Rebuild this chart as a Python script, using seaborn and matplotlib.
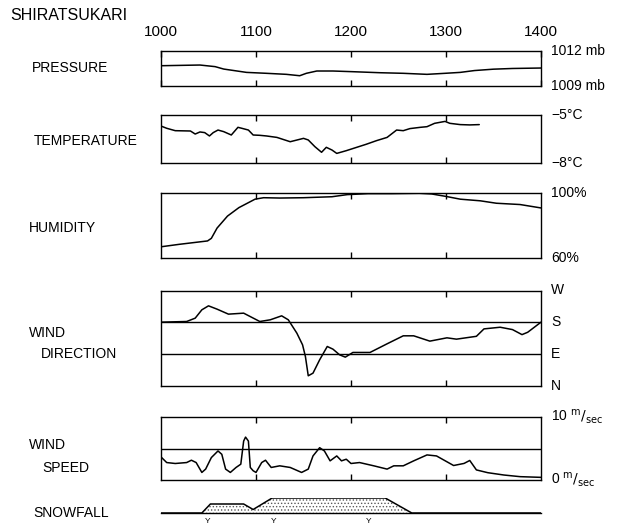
import pandas as pd
import seaborn as sns
import matplotlib.pyplot as plt
from matplotlib.transforms import blended_transform_factory

# time axis in decimal hours (10.0 = 1000)
hour_ticks = [10, 11, 12, 13, 14]
hour_labels = ["1000", "1100", "1200", "1300", "1400"]

pres_t = [10.0, 10.41, 10.57, 10.66, 10.90, 11.11, 11.32, 11.46, 11.53, 11.64, 11.81,
          12.02, 12.31, 12.55, 12.80, 12.99, 13.15, 13.3, 13.5, 13.7, 14.0]
pres_v = [1010.72, 1010.78, 1010.64, 1010.43, 1010.14, 1010.06, 1009.97, 1009.85, 1010.06,
          1010.26, 1010.26, 1010.2, 1010.11, 1010.06, 1009.97, 1010.06, 1010.14, 1010.3,
          1010.42, 1010.48, 1010.52]

temp_t = [10.00, 10.06, 10.15, 10.31, 10.36, 10.41, 10.46, 10.51, 10.55, 10.60, 10.66,
          10.74, 10.81, 10.85, 10.92, 10.97, 11.04, 11.11, 11.22, 11.36, 11.50, 11.55,
          11.62, 11.69, 11.74, 11.80, 11.85, 11.95, 12.06, 12.16, 12.27, 12.38, 12.48,
          12.55, 12.62, 12.73, 12.80, 12.88, 12.99, 13.04, 13.15, 13.25, 13.35]
temp_v = [-5.69, -5.83, -5.98, -6.00, -6.19, -6.06, -6.10, -6.31, -6.10, -5.94, -6.04,
          -6.25, -5.77, -5.83, -5.94, -6.25, -6.27, -6.31, -6.40, -6.67, -6.46, -6.56,
          -6.98, -7.33, -7.02, -7.19, -7.40, -7.23, -7.02, -6.83, -6.60, -6.40, -5.94,
          -5.98, -5.85, -5.77, -5.73, -5.52, -5.40, -5.52, -5.60, -5.62, -5.60]

hum_t = [10.0, 10.19, 10.49, 10.53, 10.59, 10.70, 10.82, 10.99, 11.08, 11.25, 11.50,
         11.80, 11.96, 12.18, 12.43, 12.72, 12.85, 13.0, 13.15, 13.36, 13.53, 13.78, 14.0]
hum_v = [66.9, 68.4, 70.5, 72.1, 78.4, 85.8, 91.0, 96.2, 97.1, 96.9, 97.1,
         97.7, 99.0, 99.6, 99.6, 99.8, 99.4, 97.9, 96.2, 95.2, 93.7, 92.9, 90.8]

# wind direction in degrees (N=0, E=90, S=180, W=270)
wdir_t = [10.0, 10.27, 10.36, 10.43, 10.50, 10.59, 10.71, 10.87, 11.04, 11.15, 11.27,
          11.34, 11.43, 11.49, 11.52, 11.55, 11.60, 11.67, 11.75, 11.81, 11.88, 11.94,
          12.02, 12.2, 12.38, 12.55, 12.66, 12.83, 13.01, 13.11, 13.32, 13.40, 13.57,
          13.70, 13.80, 13.86, 14.0]
wdir_v = [180, 181.9, 191.4, 215.1, 226.4, 217, 202.8, 205.6, 181.9, 186.7, 198,
          186.7, 148.8, 115.6, 82.5, 27.6, 35.1, 73, 110.9, 103.3, 87.2, 80.6,
          93.9, 93.9, 118.5, 141.2, 141.2, 126.1, 135.5, 131.7, 139.8, 160.9, 165.6,
          158.9, 144.6, 151.3, 180]

wspd_t = [10.0, 10.06, 10.15, 10.27, 10.32, 10.37, 10.43, 10.47, 10.53, 10.60, 10.64,
          10.68, 10.73, 10.79, 10.84, 10.87, 10.89, 10.92, 10.94, 10.97, 11.0, 11.06,
          11.10, 11.16, 11.25, 11.36, 11.48, 11.55, 11.60, 11.67, 11.72, 11.78, 11.85,
          11.90, 11.95, 12.0, 12.09, 12.24, 12.38, 12.45, 12.55, 12.66, 12.80, 12.90,
          13.08, 13.19, 13.25, 13.32, 13.44, 13.61, 13.78, 14.0]
wspd_v = [3.66, 2.77, 2.62, 2.77, 3.14, 2.77, 1.20, 1.73, 3.56, 4.61, 4.08,
          1.73, 1.20, 1.99, 2.51, 6.18, 6.81, 6.18, 1.99, 1.47, 1.20, 2.77,
          3.14, 1.99, 2.25, 1.99, 1.20, 1.73, 3.82, 5.13, 4.61, 3.04, 3.82,
          3.04, 3.30, 2.62, 2.77, 2.25, 1.73, 2.25, 2.25, 3.04, 3.98, 3.82,
          2.3, 2.63, 3.1, 1.6, 1.16, 0.79, 0.53, 0.42]

snow_t = [10.0, 10.43, 10.52, 10.87, 10.97, 11.17, 12.36, 12.64, 14.0]
snow_v = [0, 0, 1.8, 1.8, 0.7, 3, 3, 0, 0]
snow_marks = [10.49, 11.18, 12.18]

W, H = 627, 527
sns.set_style("white")
plt.rcParams['font.family'] = ['Liberation Sans', 'DejaVu Sans']
plt.rcParams['text.color'] = 'black'
plt.rcParams['xtick.color'] = 'black'
plt.rcParams['hatch.color'] = '0.35'
plt.rcParams['hatch.linewidth'] = 0.6

fig = plt.figure(figsize=(W / 100, H / 100), dpi=100)


def panel(top, bottom):
    ax = fig.add_axes([161 / W, 1 - bottom / H, 380 / W, (bottom - top) / H])
    ax.set_xlim(10, 14)
    for s in ax.spines.values():
        s.set_linewidth(1.0)
        s.set_color('black')
    ax.set_xticks([11, 12, 13])
    ax.tick_params(axis='x', direction='in', top=True, bottom=True, length=4,
                   width=1, labelbottom=False)
    ax.set_yticks([])
    ax.set_xlabel("")
    ax.set_ylabel("")
    return ax


def right_label(ax, y, text):
    tr = blended_transform_factory(ax.transAxes, ax.transData)
    ax.text(1.027, y, text, transform=tr, ha='left', va='center', fontsize=10)


line_kw = dict(color='black', linewidth=1.1, estimator=None, sort=False)

# pressure
ax = panel(51, 85.5)
sns.lineplot(x=pres_t, y=pres_v, ax=ax, **line_kw)
ax.set_ylim(1009, 1012)
ax.set_xticks(hour_ticks)
ax.set_xticklabels(hour_labels)
ax.tick_params(axis='x', labeltop=True, labelbottom=False, labelsize=11, pad=9)
right_label(ax, 1012, "1012 mb")
right_label(ax, 1009, "1009 mb")

# temperature
ax = panel(115, 163)
sns.lineplot(x=temp_t, y=temp_v, ax=ax, **line_kw)
ax.set_ylim(-8, -5)
right_label(ax, -5, "\u22125\u00b0C")
right_label(ax, -8, "\u22128\u00b0C")

# humidity
ax = panel(193, 258)
sns.lineplot(x=hum_t, y=hum_v, ax=ax, **line_kw)
ax.set_ylim(60, 100)
right_label(ax, 100, "100%")
right_label(ax, 60, "60%")

# wind direction
ax = panel(290.5, 385.5)
ax.axhline(90, color='black', linewidth=1.0)
ax.axhline(180, color='black', linewidth=1.0)
sns.lineplot(x=wdir_t, y=wdir_v, ax=ax, **line_kw)
ax.set_ylim(0, 270)
for deg, lab in zip([270, 180, 90, 0], ["W", "S", "E", "N"]):
    right_label(ax, deg, lab)

# wind speed
ax = panel(417, 480)
ax.axhline(5, color='black', linewidth=1.0)
sns.lineplot(x=wspd_t, y=wspd_v, ax=ax, **line_kw)
ax.set_ylim(0, 10)
right_label(ax, 10, r"10 $^{\rm m}/_{\rm sec}$")
right_label(ax, 0, r"0 $^{\rm m}/_{\rm sec}$")

# snowfall
ax = fig.add_axes([161 / W, 1 - 513 / H, 380 / W, 15 / H])
ax.fill_between(snow_t, snow_v, 0, facecolor='white', edgecolor='0.35',
                hatch='.....', linewidth=0)
sns.lineplot(x=snow_t, y=snow_v, ax=ax, **line_kw)
ax.set_xlim(10, 14)
ax.set_ylim(0, 3)
for s in ['top', 'left', 'right']:
    ax.spines[s].set_visible(False)
ax.spines['bottom'].set_linewidth(1.0)
ax.spines['bottom'].set_color('black')
ax.set_xticks(hour_ticks)
ax.tick_params(axis='x', direction='out', length=5, width=1, labelbottom=False)
ax.set_yticks([])
for t in snow_marks:
    ax.text(t, -0.33, "Y", ha='center', va='top', fontsize=6,
            transform=blended_transform_factory(ax.transData, ax.transAxes),
            clip_on=False)

# left labels
def left_label(x, y, text, size=10):
    fig.text(x / W, 1 - y / H, text, ha='left', va='center', fontsize=size)


left_label(10, 16, "SHIRATSUKARI", 11.5)
left_label(32, 68, "PRESSURE")
left_label(34, 141, "TEMPERATURE")
left_label(29, 228, "HUMIDITY")
left_label(29, 333, "WIND")
left_label(41, 354, "DIRECTION")
left_label(29, 445, "WIND")
left_label(42, 468, "SPEED")
left_label(33, 513, "SNOWFALL")

fig.savefig("out.png", dpi=100)
